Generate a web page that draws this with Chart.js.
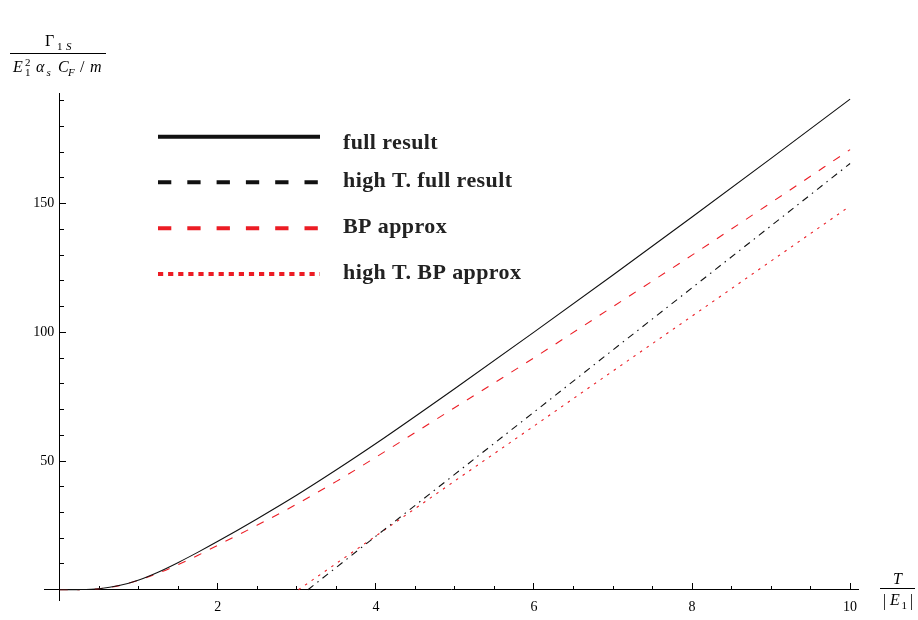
<!DOCTYPE html>
<html><head><meta charset="utf-8">
<script src="https://cdn.jsdelivr.net/npm/chart.js@4.4.0/dist/chart.umd.min.js"></script>
<style>html,body{margin:0;padding:0;background:#fff;} canvas{display:block;}</style>
</head><body>
<canvas id="c" width="918" height="620"></canvas>
<script>
// ---- data ----
const T_FULL = [0, 0.25, 0.5, 0.75, 1, 1.25, 1.5, 1.75, 2, 2.5, 3, 3.5, 4, 5, 6, 7, 8, 9, 10];
const FULL   = [0, 0.05, 0.4, 1.6, 3.8, 6.9, 10.6, 14.6, 18.8, 27.6, 36.8, 46.6, 56.8, 78.2, 100.1, 122.3, 144.8, 167.6, 190.6];
const T_BP   = [0, 0.25, 0.5, 0.75, 1, 1.25, 1.5, 1.75, 2, 2.5, 3, 3.5, 4, 5, 6, 7, 8, 9, 10];
const BP     = [0, 0.05, 0.4, 1.6, 3.7, 6.5, 9.8, 13.4, 17.3, 25.1, 33.3, 42.1, 51.5, 70.8, 90.1, 110, 130, 150.4, 171];
const T_HT_FULL = [3.14, 4, 5, 6, 7, 8, 9, 10];
const HT_FULL   = [0, 20.8, 44.9, 69, 93.2, 117.3, 141.4, 165.6];
const T_HT_BP   = [3.02, 4, 5, 6, 7, 8, 9, 10];
const HT_BP     = [0, 20.9, 42.3, 63.6, 85.0, 106.3, 127.7, 149.1];
const X_TICK_LABELS = [2, 4, 6, 8, 10];
const Y_TICK_LABELS = [50, 100, 150];
const LEGEND_LABELS = ['full result', 'high T. full result', 'BP approx', 'high T. BP approx'];

const RED = 'rgb(236,28,36)';
const BLACK = '#111';
const X_MIN = -0.2, X_MAX = 10.1, Y_MIN = -4, Y_MAX = 193;

function pts(xs, ys) { return xs.map((x, i) => ({x: x, y: ys[i]})); }

Chart.defaults.font.family = '"Liberation Serif", "DejaVu Serif", serif';
Chart.defaults.color = '#000';

const legendStyles = [
  {color: BLACK, dash: []},
  {color: BLACK, dash: [13.3, 16]},
  {color: RED, dash: [13.3, 16]},
  {color: RED, dash: [5.2, 4.9]}
];

const decorPlugin = {
  id: 'decor',
  afterDraw(chart) {
    const ctx = chart.ctx;
    ctx.save();
    const lineY = [136.7, 182.3, 228.3, 274];
    const textY = [149.3, 187, 232.7, 279.3];
    for (let i = 0; i < 4; i++) {
      const s = legendStyles[i];
      ctx.beginPath();
      ctx.strokeStyle = s.color;
      ctx.lineWidth = 4;
      ctx.lineCap = 'butt';
      ctx.setLineDash(s.dash);
      ctx.moveTo(158, lineY[i]);
      ctx.lineTo(320, lineY[i]);
      ctx.stroke();
      ctx.setLineDash([]);
      ctx.fillStyle = '#222';
      ctx.font = 'bold 22px "Liberation Serif"';
      ctx.textBaseline = 'alphabetic';
      ctx.textAlign = 'left';
      if ('letterSpacing' in ctx) ctx.letterSpacing = '0.4px';
      ctx.fillText(LEGEND_LABELS[i], 343, textY[i]);
      if ('letterSpacing' in ctx) ctx.letterSpacing = '0px';
    }
    const big = '16px "Liberation Serif"', bigI = 'italic 16px "Liberation Serif"';
    const sm = '11px "Liberation Serif"', smI = 'italic 11px "Liberation Serif"';
    ctx.fillStyle = '#000';
    function t(str, x, y, f) { ctx.font = f; ctx.fillText(str, x, y); }
    // y axis title
    t('\u0393', 45, 46, big);
    t('1', 57, 50, sm);
    t('S', 66, 50, smI);
    ctx.beginPath(); ctx.strokeStyle = '#000'; ctx.lineWidth = 1;
    ctx.moveTo(10, 53.5); ctx.lineTo(106, 53.5); ctx.stroke();
    t('E', 13, 72, bigI);
    t('2', 25, 66, sm);
    t('1', 25, 76, sm);
    t('\u03B1', 36, 72, bigI);
    t('s', 46.5, 76, smI);
    t('C', 58, 72, bigI);
    t('F', 68, 76, smI);
    t('/', 80, 72, big);
    t('m', 90, 72, bigI);
    // x axis title
    t('T', 893, 584, bigI);
    ctx.beginPath(); ctx.moveTo(880, 588.5); ctx.lineTo(915, 588.5); ctx.stroke();
    t('|', 883, 606, big);
    t('E', 890, 605, bigI);
    t('1', 901.5, 609, sm);
    t('|', 910, 606, big);
    ctx.restore();
  }
};

new Chart(document.getElementById('c'), {
  type: 'line',
  data: {
    datasets: [
      {data: pts(T_FULL, FULL), borderColor: BLACK, borderWidth: 1.1, cubicInterpolationMode: 'monotone'},
      {data: pts(T_HT_FULL, HT_FULL), borderColor: BLACK, borderWidth: 1.1, borderDash: [7, 5, 1.5, 5]},
      {data: pts(T_BP, BP), borderColor: RED, borderWidth: 1.1, borderDash: [8, 9.5], cubicInterpolationMode: 'monotone'},
      {data: pts(T_HT_BP, HT_BP), borderColor: RED, borderWidth: 1.1, borderDash: [2.5, 5.5]}
    ]
  },
  options: {
    responsive: false,
    devicePixelRatio: 1,
    animation: false,
    events: [],
    layout: {padding: {left: 44, right: 60, top: 93, bottom: 20}},
    elements: {point: {radius: 0}, line: {fill: false}},
    plugins: {legend: {display: false}, tooltip: {enabled: false}},
    scales: {
      x: {
        type: 'linear', min: X_MIN, max: X_MAX, position: {y: 0},
        grid: {drawOnChartArea: false, tickLength: -7, tickColor: '#000', tickWidth: 1},
        border: {display: true, color: '#000', width: 1},
        ticks: {stepSize: 2, includeBounds: false, autoSkip: false, maxRotation: 0, padding: 16,
                font: {size: 14}, color: '#000',
                callback: v => X_TICK_LABELS.includes(v) ? String(v) : ''}
      },
      x2: {
        type: 'linear', axis: 'x', min: X_MIN, max: X_MAX, position: {y: 0},
        grid: {drawOnChartArea: false, tickLength: -4, tickColor: '#000', tickWidth: 1},
        border: {display: false},
        ticks: {stepSize: 0.5, includeBounds: false, autoSkip: false, maxRotation: 0, padding: 0,
                callback: () => ''}
      },
      y: {
        type: 'linear', min: Y_MIN, max: Y_MAX, position: {x: 0},
        grid: {drawOnChartArea: false, tickLength: -7, tickColor: '#000', tickWidth: 1},
        border: {display: true, color: '#000', width: 1},
        ticks: {stepSize: 50, includeBounds: false, autoSkip: false, callback: () => ''}
      },
      y2: {
        type: 'linear', axis: 'y', min: Y_MIN, max: Y_MAX, position: {x: 0},
        grid: {drawOnChartArea: false, tickLength: -4, tickColor: '#000', tickWidth: 1},
        border: {display: false},
        ticks: {stepSize: 10, includeBounds: false, autoSkip: false, callback: () => ''}
      },
      yLabels: {
        type: 'linear', axis: 'y', min: Y_MIN, max: Y_MAX, position: {x: -0.07},
        grid: {display: false},
        border: {display: false},
        ticks: {stepSize: 50, includeBounds: false, autoSkip: false,
                font: {size: 14}, color: '#000',
                callback: v => Y_TICK_LABELS.includes(v) ? String(v) : ''}
      }
    }
  },
  plugins: [decorPlugin]
});
</script>
</body></html>
